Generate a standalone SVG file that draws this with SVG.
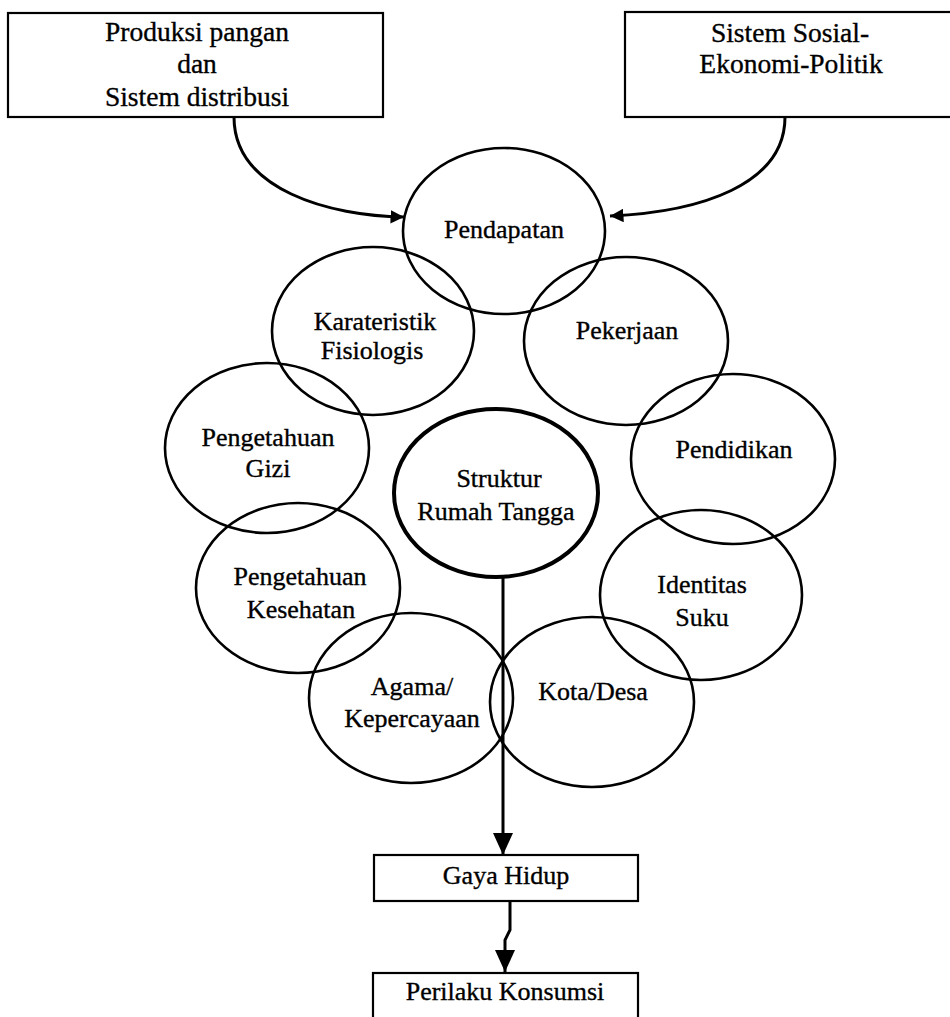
<svg xmlns="http://www.w3.org/2000/svg" width="950" height="1017" viewBox="0 0 950 1017">
<style>
text{font-family:"Liberation Serif","Times New Roman",serif;fill:#000;stroke:#000;stroke-width:0.35;text-anchor:middle}
.t{font-size:26px}
.tb{font-size:27.5px}
.box{fill:none;stroke:#000;stroke-width:2.2}
.el{fill:none;stroke:#000;stroke-width:2.6}
.thick{fill:none;stroke:#000;stroke-width:4}
.con{fill:none;stroke:#000;stroke-width:3}
</style>
<defs>
<marker id="ah" viewBox="0 0 10 10" refX="10" refY="5" markerWidth="4.5" markerHeight="4.5" orient="auto" markerUnits="strokeWidth">
<path d="M0,0 L10,5 L0,10 z" fill="#000"/>
</marker>
<marker id="ahb" viewBox="0 0 22 20" refX="22" refY="10" markerWidth="22" markerHeight="20" orient="auto" markerUnits="userSpaceOnUse">
<path d="M0,0 L22,10 L0,20 z" fill="#000"/>
</marker>
</defs>
<rect width="950" height="1017" fill="#fff"/>
<g id="produksi">
<rect class="box" x="8" y="13" width="375" height="104"/>
<text class="tb" x="197" y="41">Produksi pangan</text>
<text class="tb" x="197" y="73">dan</text>
<text class="tb" x="197" y="106">Sistem distribusi</text>
</g>
<g id="sosial">
<rect class="box" x="625" y="12" width="330" height="105"/>
<text class="tb" x="790" y="42">Sistem Sosial-</text>
<text class="tb" x="791" y="73">Ekonomi-Politik</text>
</g>
<g id="pendapatan">
<ellipse class="el" cx="504" cy="231" rx="101" ry="83"/>
<text class="t" x="504" y="238">Pendapatan</text>
</g>
<g id="karateristik">
<ellipse class="el" cx="373" cy="331" rx="101" ry="84"/>
<text class="t" x="375" y="330">Karateristik</text>
<text class="t" x="372" y="359">Fisiologis</text>
</g>
<g id="pekerjaan">
<ellipse class="el" cx="626" cy="341" rx="102" ry="84"/>
<text class="t" x="627" y="339">Pekerjaan</text>
</g>
<g id="gizi">
<ellipse class="el" cx="267" cy="448" rx="102" ry="85"/>
<text class="t" x="268" y="446">Pengetahuan</text>
<text class="t" x="268" y="477">Gizi</text>
</g>
<g id="pendidikan">
<ellipse class="el" cx="733" cy="459" rx="102" ry="85"/>
<text class="t" x="734" y="458">Pendidikan</text>
</g>
<g id="struktur">
<ellipse class="thick" cx="496" cy="493" rx="102" ry="84"/>
<text class="t" x="499" y="487">Struktur</text>
<text class="t" x="496" y="520">Rumah Tangga</text>
</g>
<g id="kesehatan">
<ellipse class="el" cx="298" cy="588" rx="102" ry="85"/>
<text class="t" x="300" y="585">Pengetahuan</text>
<text class="t" x="301" y="618">Kesehatan</text>
</g>
<g id="identitas">
<ellipse class="el" cx="701" cy="595" rx="101" ry="85"/>
<text class="t" x="702" y="593">Identitas</text>
<text class="t" x="702" y="626">Suku</text>
</g>
<g id="agama">
<ellipse class="el" cx="411" cy="698" rx="102" ry="85"/>
<text class="t" x="412" y="695">Agama/</text>
<text class="t" x="412" y="727">Kepercayaan</text>
</g>
<g id="kota">
<ellipse class="el" cx="592" cy="702" rx="102" ry="85"/>
<text class="t" x="593" y="700">Kota/Desa</text>
</g>
<g id="gaya">
<rect class="box" x="374" y="855" width="264" height="46"/>
<text class="t" x="506" y="884">Gaya Hidup</text>
</g>
<g id="perilaku">
<rect class="box" x="373" y="973" width="265" height="50"/>
<text class="t" x="505" y="1000">Perilaku Konsumsi</text>
</g>
<g id="connectors">
<path class="con" d="M234,117 C234,190 330,216 404,217" marker-end="url(#ah)"/>
<path class="con" d="M785,117 C785,185 700,212 610,216" marker-end="url(#ah)"/>
<path class="con" d="M503,577 L503,855" marker-end="url(#ahb)"/>
<path class="con" d="M510,901 L510,930 L505,940 L505,972" marker-end="url(#ahb)"/>
</g>
</svg>
